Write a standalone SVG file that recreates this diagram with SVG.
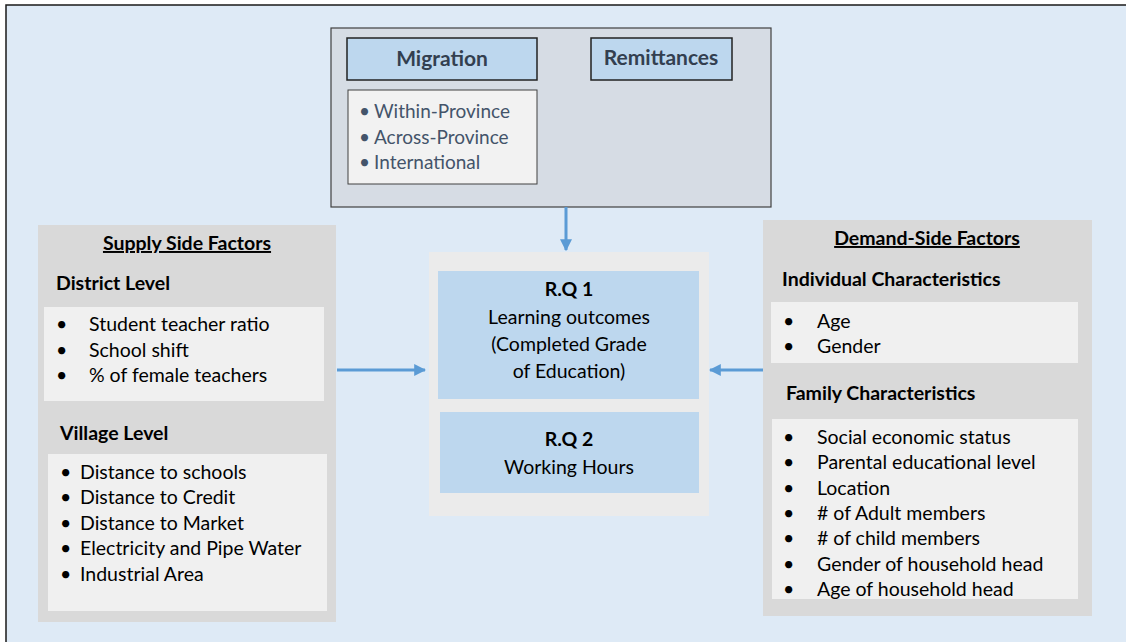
<svg xmlns="http://www.w3.org/2000/svg" width="1126" height="642" viewBox="0 0 1126 642">
<style>
.t{font-family:Lato,"Liberation Sans",sans-serif;font-size:19.5px;fill:#000}
.b{font-weight:bold}
.c{text-anchor:middle}
.mig{font-family:Lato,"Liberation Sans",sans-serif;font-size:21px;font-weight:bold;fill:#333f50;text-anchor:middle}
.ml{font-family:Lato,"Liberation Sans",sans-serif;font-size:19px;fill:#44546a}
.panel{fill:#d9d9d9}
.wbox{fill:#f0f0f0}
.rq{fill:#bdd7ee}
.conn{stroke:#5b9bd5;stroke-width:3;fill:none}
</style>
<defs>
<marker id="ah" viewBox="0 0 10 10" refX="9" refY="5" markerWidth="4" markerHeight="4" orient="auto" markerUnits="strokeWidth">
<path d="M0,0 L10,5 L0,10 Z" fill="#5b9bd5"/>
</marker>
</defs>
<rect x="0" y="0" width="1126" height="642" fill="#ffffff"/>
<rect x="6" y="5" width="1125" height="645" fill="#deeaf6" stroke="#1a1a1a" stroke-width="1.5"/>

<g id="migration-group">
<rect x="331" y="28" width="440" height="179" fill="#d6dce4" stroke="#404040" stroke-width="1.2"/>
</g>
<g id="migration">
<rect x="347" y="38" width="190" height="42" fill="#bdd7ee" stroke="#222" stroke-width="1.5"/>
<text class="mig" x="442" y="66">Migration</text>
</g>
<g id="remittances">
<rect x="591" y="38" width="141" height="42" fill="#bdd7ee" stroke="#222" stroke-width="1.5"/>
<text class="mig" x="661" y="65">Remittances</text>
</g>
<g id="migration-types">
<rect x="348" y="90" width="189" height="94" fill="#f2f2f2" stroke="#404040" stroke-width="1"/>
<text class="ml" x="359" y="118">•</text><text class="ml" x="374" y="118">Within-Province</text>
<text class="ml" x="359" y="144">•</text><text class="ml" x="374" y="144">Across-Province</text>
<text class="ml" x="359" y="169">•</text><text class="ml" x="374" y="169">International</text>
</g>

<g id="supply-side">
<rect class="panel" x="38" y="225" width="298" height="397"/>
<text class="t b c" x="187" y="250" text-decoration="underline">Supply Side Factors</text>
<text class="t b" x="56" y="290">District Level</text>
<rect class="wbox" x="44" y="307" width="280" height="94"/>
<text class="t" x="56" y="331">•</text><text class="t" x="89" y="331">Student teacher ratio</text>
<text class="t" x="56" y="357">•</text><text class="t" x="89" y="357">School shift</text>
<text class="t" x="56" y="382">•</text><text class="t" x="89" y="382">% of female teachers</text>
<text class="t b" x="60" y="440">Village Level</text>
<rect class="wbox" x="48" y="454" width="279" height="157"/>
<text class="t" x="60" y="479">•</text><text class="t" x="80" y="479">Distance to schools</text>
<text class="t" x="60" y="504">•</text><text class="t" x="80" y="504">Distance to Credit</text>
<text class="t" x="60" y="530">•</text><text class="t" x="80" y="530">Distance to Market</text>
<text class="t" x="60" y="555">•</text><text class="t" x="80" y="555">Electricity and Pipe Water</text>
<text class="t" x="60" y="581">•</text><text class="t" x="80" y="581">Industrial Area</text>
</g>

<g id="outcomes">
<rect x="429" y="252" width="280" height="264" fill="#ebebeb"/>
</g>
<g id="rq1">
<rect class="rq" x="438" y="271" width="261" height="128"/>
<text class="t b c" x="569" y="296">R.Q 1</text>
<text class="t c" x="569" y="324">Learning outcomes</text>
<text class="t c" x="569" y="351">(Completed Grade</text>
<text class="t c" x="569" y="378">of Education)</text>
</g>
<g id="rq2">
<rect class="rq" x="440" y="412" width="259" height="81"/>
<text class="t b c" x="569" y="446">R.Q 2</text>
<text class="t c" x="569" y="474">Working Hours</text>
</g>

<g id="demand-side">
<rect class="panel" x="763" y="220" width="329" height="396"/>
<text class="t b c" x="927" y="245" text-decoration="underline">Demand-Side Factors</text>
<text class="t b" x="782" y="286">Individual Characteristics</text>
<rect class="wbox" x="771" y="302" width="307" height="61"/>
<text class="t" x="783" y="328">•</text><text class="t" x="817" y="328">Age</text>
<text class="t" x="783" y="353">•</text><text class="t" x="817" y="353">Gender</text>
<text class="t b" x="786" y="400">Family Characteristics</text>
<rect class="wbox" x="772" y="419" width="306" height="180"/>
<text class="t" x="783" y="444">•</text><text class="t" x="817" y="444">Social economic status</text>
<text class="t" x="783" y="469">•</text><text class="t" x="817" y="469">Parental educational level</text>
<text class="t" x="783" y="495">•</text><text class="t" x="817" y="495">Location</text>
<text class="t" x="783" y="520">•</text><text class="t" x="817" y="520"># of Adult members</text>
<text class="t" x="783" y="545">•</text><text class="t" x="817" y="545"># of child members</text>
<text class="t" x="783" y="571">•</text><text class="t" x="817" y="571">Gender of household head</text>
<text class="t" x="783" y="596">•</text><text class="t" x="817" y="596">Age of household head</text>
</g>

<g id="connectors">
<line class="conn" x1="566" y1="207" x2="566" y2="250" marker-end="url(#ah)"/>
<line class="conn" x1="337" y1="370" x2="425" y2="370" marker-end="url(#ah)"/>
<line class="conn" x1="763" y1="370" x2="710" y2="370" marker-end="url(#ah)"/>
</g>
</svg>
